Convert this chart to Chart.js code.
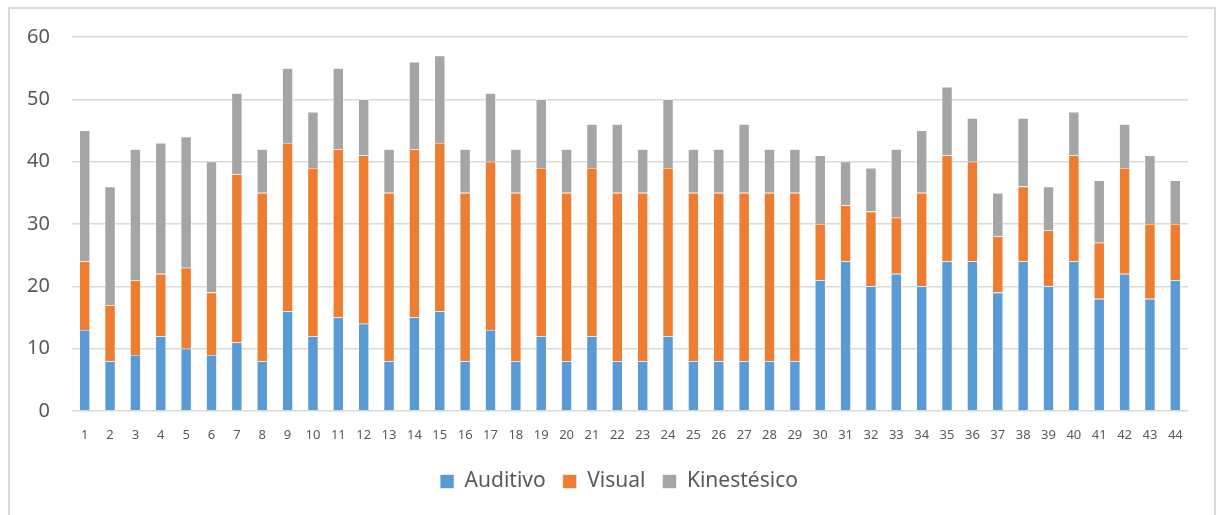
<!DOCTYPE html>
<html>
<head>
<meta charset="utf-8">
<script src="https://cdn.jsdelivr.net/npm/chart.js@4/dist/chart.umd.min.js"></script>
<style>
    html, body { margin: 0; padding: 0; background: #fff; }
    #wrap { position: relative; width: 1221px; height: 515px; overflow: hidden; }
    #frame { position: absolute; left: 8px; top: 7px; width: 1208px; height: 530px; border: 2px solid #d9d9d9; box-sizing: border-box; }
    #grafico { position: absolute; left: 0; top: 0; }
</style>
</head>
<body>
<div id="wrap">
    <div id="frame"></div>
    <canvas id="grafico" width="1221" height="515"></canvas>
</div>
<script>
var categorias = ['1','2','3','4','5','6','7','8','9','10','11','12','13','14','15','16','17','18','19','20','21','22',
                  '23','24','25','26','27','28','29','30','31','32','33','34','35','36','37','38','39','40','41','42','43','44'];
var auditivo    = [13,8,9,12,10,9,11,8,16,12,15,14,8,15,16,8,13,8,12,8,12,8,8,12,8,8,8,8,8,21,24,20,22,20,24,24,19,24,20,24,18,22,18,21];
var visual      = [11,9,12,10,13,10,27,27,27,27,27,27,27,27,27,27,27,27,27,27,27,27,27,27,27,27,27,27,27,9,9,12,9,15,17,16,9,12,9,17,9,17,12,9];
var kinestesico = [21,19,21,21,21,21,13,7,12,9,13,9,7,14,14,7,11,7,11,7,7,11,7,11,7,7,11,7,7,11,7,7,11,10,11,7,7,11,7,7,10,7,11,7];
var ticksY = [0, 10, 20, 30, 40, 50, 60];

Chart.defaults.font.family = "'Noto Sans', 'Open Sans', sans-serif";
Chart.defaults.color = '#595959';

function serie(nome, dados, cor) {
    return {
        label: nome,
        data: dados,
        backgroundColor: cor,
        borderColor: '#ffffff',
        borderWidth: 0.6,
        barPercentage: 0.42,
        categoryPercentage: 1
    };
}

// desplaza la leyenda un poco a la derecha, como en el original
var moverLeyenda = {
    id: 'moverLeyenda',
    afterLayout: function (chart) {
        chart.legend.left += 25;
        chart.legend.right += 25;
    }
};

new Chart(document.getElementById('grafico'), {
    type: 'bar',
    data: {
        labels: categorias,
        datasets: [
            serie('Auditivo', auditivo, '#5b9bd5'),
            serie('Visual', visual, '#ed7d31'),
            serie('Kinestésico', kinestesico, '#a5a5a5')
        ]
    },
    plugins: [moverLeyenda],
    options: {
        responsive: false,
        animation: false,
        layout: { padding: { top: 37, right: 33, left: 0, bottom: 13 } },
        plugins: {
            tooltip: { enabled: false },
            legend: {
                position: 'bottom',
                labels: { boxWidth: 14, boxHeight: 14, padding: 17, font: { size: 21 }, color: '#595959' }
            }
        },
        scales: {
            x: {
                stacked: true,
                grid: { display: false, drawTicks: false },
                border: { display: false },
                ticks: { padding: 16, font: { size: 13 }, autoSkip: false, maxRotation: 0 },
                afterFit: function (s) { s.height = 43; }
            },
            y: {
                stacked: true,
                min: 0,
                max: 60,
                afterBuildTicks: function (s) { s.ticks = ticksY.map(function (v) { return { value: v }; }); },
                grid: { color: '#d9d9d9', lineWidth: 1.5, drawTicks: false },
                border: { display: false },
                ticks: { padding: 22, font: { size: 20 } },
                afterFit: function (s) { s.width = 72; }
            }
        }
    }
});
</script>
</body>
</html>
